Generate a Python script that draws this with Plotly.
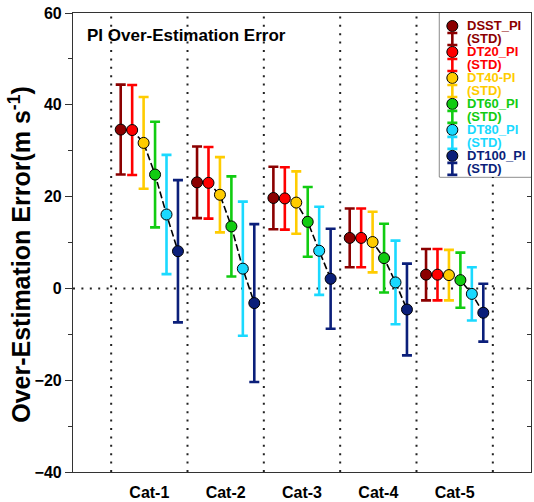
import plotly.graph_objects as go

categories = ["Cat-1", "Cat-2", "Cat-3", "Cat-4", "Cat-5"]
series_names = ["DSST_PI", "DT20_PI", "DT40-PI", "DT60_PI", "DT80_PI", "DT100_PI"]
series_colors = ["#8b0000", "#ff0000", "#ffcc00", "#11cc11", "#1ad9ff", "#0b1f7a"]

dsst_mean = [34.6, 23.1, 19.7, 11.0, 3.0]
dsst_std = [9.8, 7.8, 6.8, 6.4, 5.6]
dt20_mean = [34.5, 23.0, 19.6, 11.0, 3.0]
dt20_std = [9.8, 7.8, 6.8, 6.4, 5.6]
dt40_mean = [31.7, 20.4, 18.7, 10.1, 2.9]
dt40_std = [10.0, 8.2, 6.8, 6.6, 5.5]
dt60_mean = [24.8, 13.5, 14.5, 6.6, 1.8]
dt60_std = [11.5, 10.9, 7.6, 7.5, 6.0]
dt80_mean = [16.1, 4.3, 8.2, 1.3, -1.2]
dt80_std = [13.0, 14.6, 9.6, 9.1, 5.8]
dt100_mean = [8.1, -3.2, 2.1, -4.6, -5.3]
dt100_std = [15.5, 17.2, 10.9, 10.0, 6.3]

y_range = [-40, 60]

means = [dsst_mean, dt20_mean, dt40_mean, dt60_mean, dt80_mean, dt100_mean]
stds = [dsst_std, dt20_std, dt40_std, dt60_std, dt80_std, dt100_std]

cat_pos = list(range(1, len(categories) + 1))
step = 0.15
nser = len(series_names)

def xpos(i):
    return [p + (i - (nser - 1) / 2) * step for p in cat_pos]

fig = go.Figure()

# error bars
for i in range(nser):
    fig.add_trace(go.Scatter(
        x=xpos(i), y=means[i], mode="markers",
        marker=dict(size=1, color="rgba(0,0,0,0)"),
        error_y=dict(type="data", array=stds[i], color=series_colors[i],
                     thickness=2.6, width=5),
        showlegend=False, hoverinfo="skip"))

# dashed connecting lines per category
lx, ly = [], []
for k in range(len(categories)):
    for i in range(nser):
        lx.append(xpos(i)[k])
        ly.append(means[i][k])
    lx.append(None)
    ly.append(None)
fig.add_trace(go.Scatter(x=lx, y=ly, mode="lines",
                         line=dict(color="black", width=1.6, dash="7px,3px"),
                         showlegend=False, hoverinfo="skip"))

# markers
for i in range(nser):
    fig.add_trace(go.Scatter(
        x=xpos(i), y=means[i], mode="markers", name=series_names[i],
        marker=dict(size=11, color=series_colors[i],
                    line=dict(color="black", width=1)),
        showlegend=False))

# dummy trace for right-side inward ticks
fig.add_trace(go.Scatter(x=[None], y=[None], xaxis="x", yaxis="y3",
                         showlegend=False, hoverinfo="skip"))

# custom legend (drawn on its own hidden axes)
row_h = 13
row0 = 13
sym_x = 13
txt_x = 26
annotations = []
for i in range(nser):
    r1 = row0 + row_h * (2 * i)
    r2 = row0 + row_h * (2 * i + 1)
    fig.add_trace(go.Scatter(
        x=[sym_x], y=[r1], mode="markers", xaxis="x2", yaxis="y2",
        marker=dict(size=11, color=series_colors[i],
                    line=dict(color="black", width=1)),
        showlegend=False, hoverinfo="skip"))
    fig.add_trace(go.Scatter(
        x=[sym_x], y=[r2], mode="markers", xaxis="x2", yaxis="y2",
        marker=dict(size=1, color="rgba(0,0,0,0)"),
        error_y=dict(type="constant", value=6, color=series_colors[i],
                     thickness=2.6, width=5),
        showlegend=False, hoverinfo="skip"))
    for r, t in ((r1, series_names[i]), (r2, "(STD)")):
        annotations.append(dict(
            x=txt_x, y=r, xref="x2", yref="y2", text=t, showarrow=False,
            xanchor="left", yanchor="middle",
            font=dict(family="Liberation Sans", size=13, color=series_colors[i],
                      weight="bold")))

annotations.append(dict(
    x=0.026, y=0.95, xref="paper", yref="paper", text="PI Over-Estimation Error",
    showarrow=False, xanchor="left", yanchor="middle",
    font=dict(family="Liberation Sans", size=17, color="black", weight="bold")))

# y-axis title (as annotation, sits slightly below the axis centre as in the reference)
annotations.append(dict(
    x=-0.116, y=0.473, xref="paper", yref="paper",
    text="Over-Estimation Error(m s<sup>-1</sup>)", textangle=-90,
    showarrow=False, xanchor="center", yanchor="middle",
    font=dict(family="Liberation Sans", size=25, color="black", weight="bold")))

dot_style = dict(color="#222", width=2, dash="2px,6.4px")
shapes = []
for p in [cat_pos[0] - 0.5] + [c + 0.5 for c in cat_pos]:
    shapes.append(dict(type="line", xref="x", yref="paper", x0=p, x1=p, y0=0, y1=1,
                       line=dot_style, layer="below"))
shapes.append(dict(type="line", xref="paper", yref="y", x0=0, x1=1, y0=0, y1=0,
                   line=dot_style, layer="below"))
# legend box
shapes.append(dict(type="rect", xref="paper", yref="paper", x0=0.80, x1=1.0,
                   y0=0.643, y1=1.0, fillcolor="white",
                   line=dict(color="black", width=1), layer="below"))

axis_color = "#333"
tick_font = dict(family="Liberation Sans", size=16, color="black", weight="bold")

fig.update_layout(
    width=534, height=502, autosize=False,
    margin=dict(l=73, r=3, t=13, b=30),
    paper_bgcolor="white", plot_bgcolor="white",
    showlegend=False,
    shapes=shapes, annotations=annotations,
    xaxis=dict(range=[0, len(categories) + 1], domain=[0, 1],
               tickmode="array", tickvals=cat_pos, ticktext=categories,
               ticks="", showgrid=False, zeroline=False,
               showline=True, mirror=True, linecolor=axis_color, linewidth=1.2,
               tickfont=tick_font, ticklabelstandoff=6, automargin=False),
    yaxis=dict(range=y_range, tickmode="linear", tick0=-40, dtick=20,
               ticks="outside", ticklen=7, tickwidth=1.2, tickcolor=axis_color,
               minor=dict(tickmode="linear", tick0=-40, dtick=10, ticks="outside",
                          ticklen=4, tickwidth=1.2, tickcolor=axis_color, showgrid=False),
               showgrid=False, zeroline=False,
               showline=True, mirror=True, linecolor=axis_color, linewidth=1.2,
               tickfont=tick_font, automargin=False),
    yaxis3=dict(range=y_range, overlaying="y", side="right", anchor="x",
                tickmode="linear", tick0=-40, dtick=10, ticks="inside", ticklen=4,
                tickwidth=1.2, tickcolor=axis_color, showticklabels=False,
                showgrid=False, zeroline=False, showline=False),
    xaxis2=dict(domain=[0.80, 1.0], range=[0, 92], anchor="y2", visible=False),
    yaxis2=dict(domain=[0.643, 1.0], range=[164, 0], anchor="x2", visible=False),
)

fig.write_html("out.html",
               config={"displayModeBar": False},
               post_script="document.body.style.margin='0';document.body.style.overflow='hidden';")
